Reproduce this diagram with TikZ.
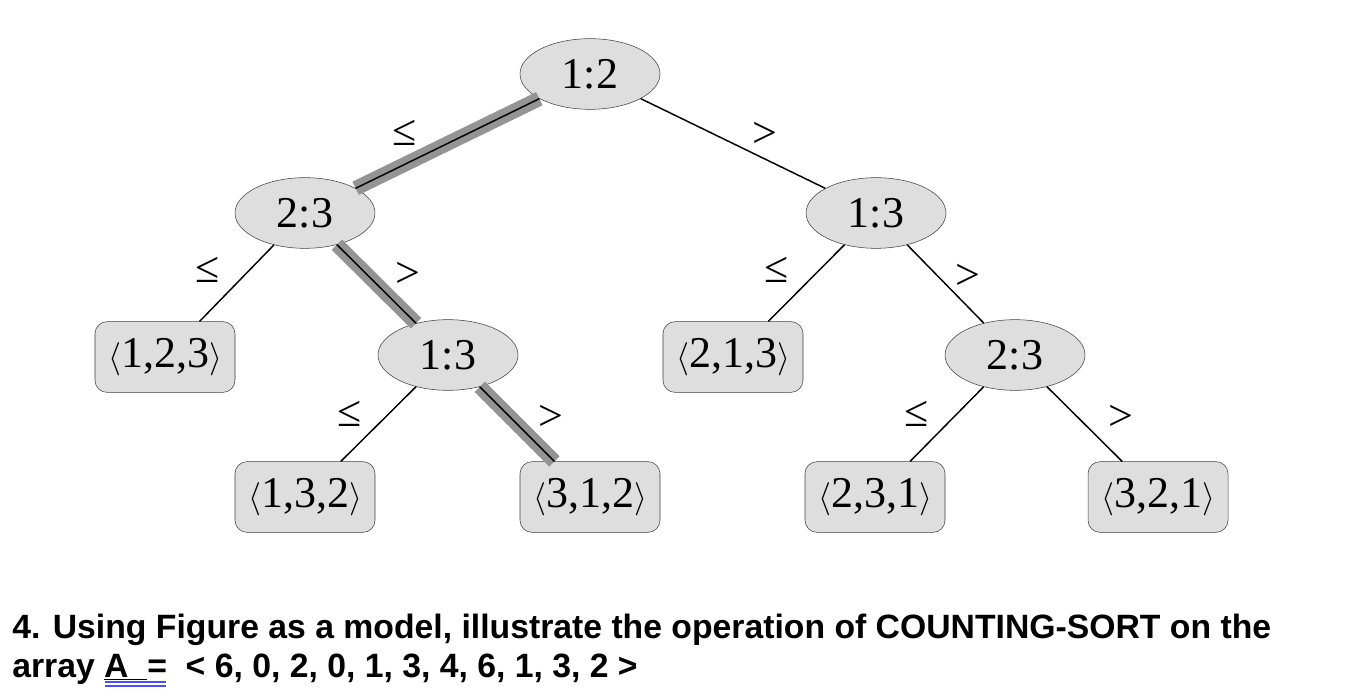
\documentclass[tikz,border=0pt]{standalone}
\usepackage{fontspec}
\setmainfont{Liberation Serif}
\newfontfamily\qsans{Liberation Sans}
\usetikzlibrary{shapes.geometric}
\begin{document}
\begin{tikzpicture}[x=0.75pt,y=-0.75pt,
  cmp/.style={ellipse,draw=black!75,fill=black!13,minimum width=105pt,minimum height=53pt,inner sep=0pt,font=\fontsize{33}{33}\selectfont},
  leaf/.style={rectangle,rounded corners=9pt,draw=black!75,fill=black!13,minimum width=105pt,minimum height=53pt,inner sep=0pt,font=\fontsize{33}{33}\selectfont},
  edge/.style={line width=1.1pt},
  hl/.style={line width=11pt,black!42},
  lab/.style={font=\fontsize{33}{33}\selectfont}]
\useasboundingbox (0,0) rectangle (1366,698);
\node[cmp] (r) at (590,74) {1:2};
\node[cmp] (a) at (305,213) {2:3};
\node[cmp] (b) at (876,213) {1:3};
\node[cmp] (c) at (448,355) {1:3};
\node[cmp] (d) at (1015,355) {2:3};
\node[leaf] (l1) at (165,357) {$\langle$1,2,3$\rangle$};
\node[leaf] (l2) at (733,357) {$\langle$2,1,3$\rangle$};
\node[leaf] (l3) at (305,497) {$\langle$1,3,2$\rangle$};
\node[leaf] (l4) at (590,497) {$\langle$3,1,2$\rangle$};
\node[leaf] (l5) at (875,497) {$\langle$2,3,1$\rangle$};
\node[leaf] (l6) at (1158,497) {$\langle$3,2,1$\rangle$};
\draw[hl] (r) -- (a);
\draw[hl] (a) -- (c);
\draw[hl] (c) -- (l4);
\draw[edge] (r) -- (a);
\draw[edge] (a) -- (c);
\draw[edge] (c) -- (l4);
\draw[edge] (r) -- (b);
\draw[edge] (a) -- (l1);
\draw[edge] (b) -- (l2);
\draw[edge] (b) -- (d);
\draw[edge] (c) -- (l3);
\draw[edge] (d) -- (l5);
\draw[edge] (d) -- (l6);
\node[lab] (s1) at (405,133) {≤};
\node[lab] (s2) at (765,135) {>};
\node[lab] (s3) at (208,270) {≤};
\node[lab] (s4) at (408,275) {>};
\node[lab] (s5) at (777,270) {≤};
\node[lab] (s6) at (968,277) {>};
\node[lab] (s7) at (350,414) {≤};
\node[lab] (s8) at (551,418) {>};
\node[lab] (s9) at (917,414) {≤};
\node[lab] (s10) at (1121,418) {>};
\node[anchor=base west,inner sep=0pt,font=\qsans\bfseries\fontsize{25.3}{28}\selectfont] (t1) at (12,638) {4. Using Figure as a model, illustrate the operation of COUNTING-SORT on the};
\node[anchor=base west,inner sep=0pt,font=\qsans\bfseries\fontsize{25.3}{28}\selectfont] (t2) at (12,677) {array \underline{A\ \ }=\ \ < 6, 0, 2, 0, 1, 3, 4, 6, 1, 3, 2 >};
\draw[blue!70,line width=0.8pt] (105,682) -- (166,682) (105,686) -- (166,686);
\end{tikzpicture}
\end{document}
